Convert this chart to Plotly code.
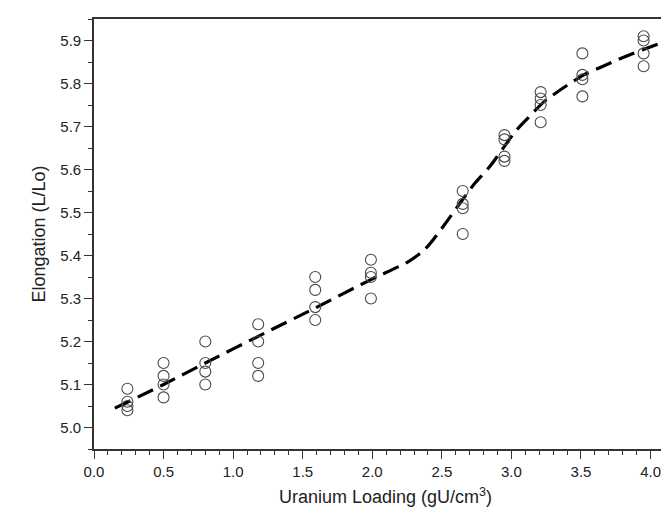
import plotly.graph_objects as go

# Measured data: uranium loading (gU/cm3) and elongation (L/Lo)
x_pts = [0.24, 0.24, 0.24, 0.24,
         0.50, 0.50, 0.50, 0.50,
         0.80, 0.80, 0.80, 0.80,
         1.18, 1.18, 1.18, 1.18,
         1.59, 1.59, 1.59, 1.59,
         1.99, 1.99, 1.99, 1.99,
         2.65, 2.65, 2.65, 2.65,
         2.95, 2.95, 2.95, 2.95,
         3.21, 3.21, 3.21, 3.21,
         3.51, 3.51, 3.51, 3.51,
         3.95, 3.95, 3.95, 3.95]
y_pts = [5.09, 5.06, 5.05, 5.04,
         5.15, 5.12, 5.10, 5.07,
         5.20, 5.15, 5.13, 5.10,
         5.24, 5.20, 5.15, 5.12,
         5.35, 5.32, 5.28, 5.25,
         5.39, 5.36, 5.35, 5.30,
         5.55, 5.52, 5.51, 5.45,
         5.68, 5.67, 5.63, 5.62,
         5.78, 5.765, 5.75, 5.71,
         5.87, 5.82, 5.81, 5.77,
         5.91, 5.90, 5.87, 5.84]

# Fitted trend curve (dashed)
x_fit = [0.15, 0.50, 0.80, 1.18, 1.59, 1.99, 2.26, 2.38, 2.52, 2.64, 2.74,
         2.84, 3.03, 3.12, 3.24, 3.52, 3.63, 3.82, 4.14]
y_fit = [5.045, 5.100, 5.150, 5.212, 5.278, 5.344, 5.386, 5.415, 5.472,
         5.526, 5.569, 5.605, 5.689, 5.720, 5.759, 5.820, 5.836, 5.863, 5.902]

x_ticks = [0.0, 0.5, 1.0, 1.5, 2.0, 2.5, 3.0, 3.5, 4.0]
y_ticks = [5.0, 5.1, 5.2, 5.3, 5.4, 5.5, 5.6, 5.7, 5.8, 5.9]

fig = go.Figure()
fig.add_trace(go.Scatter(
    x=x_fit, y=y_fit, mode="lines",
    line=dict(color="black", width=3.2, dash="17px,8px", shape="spline", smoothing=0.8),
    showlegend=False, hoverinfo="skip"))
fig.add_trace(go.Scatter(
    x=x_pts, y=y_pts, mode="markers",
    marker=dict(symbol="circle-open", size=11, color="#4a4a4a", line=dict(width=1.1, color="#4a4a4a")),
    showlegend=False))

axis_font = dict(family="Liberation Sans, Arial, sans-serif", size=15, color="#222")
title_font = dict(family="Liberation Sans, Arial, sans-serif", size=18, color="#222")

fig.update_layout(
    width=669, height=513,
    margin=dict(l=86, r=0, t=11, b=72),
    paper_bgcolor="white", plot_bgcolor="white",
    xaxis=dict(
        range=[0, 4.19],
        tickvals=x_ticks, ticktext=[f"{v:.1f}" for v in x_ticks],
        ticks="outside", ticklen=8, tickwidth=1.3, tickcolor="#333",
        minor=dict(dtick=0.1, tick0=0, ticks="outside", ticklen=4, tickwidth=1.1, tickcolor="#333", showgrid=False),
        showline=True, linecolor="#333", linewidth=1.6, mirror=True,
        showgrid=False, zeroline=False,
        tickfont=axis_font,
        title=dict(text="Uranium Loading (gU/cm<sup>3</sup>)", font=title_font, standoff=12),
    ),
    yaxis=dict(
        range=[4.95, 5.95],
        tickvals=y_ticks, ticktext=[f"{v:.1f}" for v in y_ticks],
        ticks="outside", ticklen=8, tickwidth=1.3, tickcolor="#333",
        minor=dict(dtick=0.05, tick0=4.95, ticks="outside", ticklen=4, tickwidth=1.1, tickcolor="#333", showgrid=False),
        showline=True, linecolor="#333", linewidth=1.6,
        showgrid=False, zeroline=False,
        tickfont=axis_font,
        title=dict(text="Elongation (L/Lo)", font=title_font, standoff=10),
    ),
)

fig.write_html("out.html")
